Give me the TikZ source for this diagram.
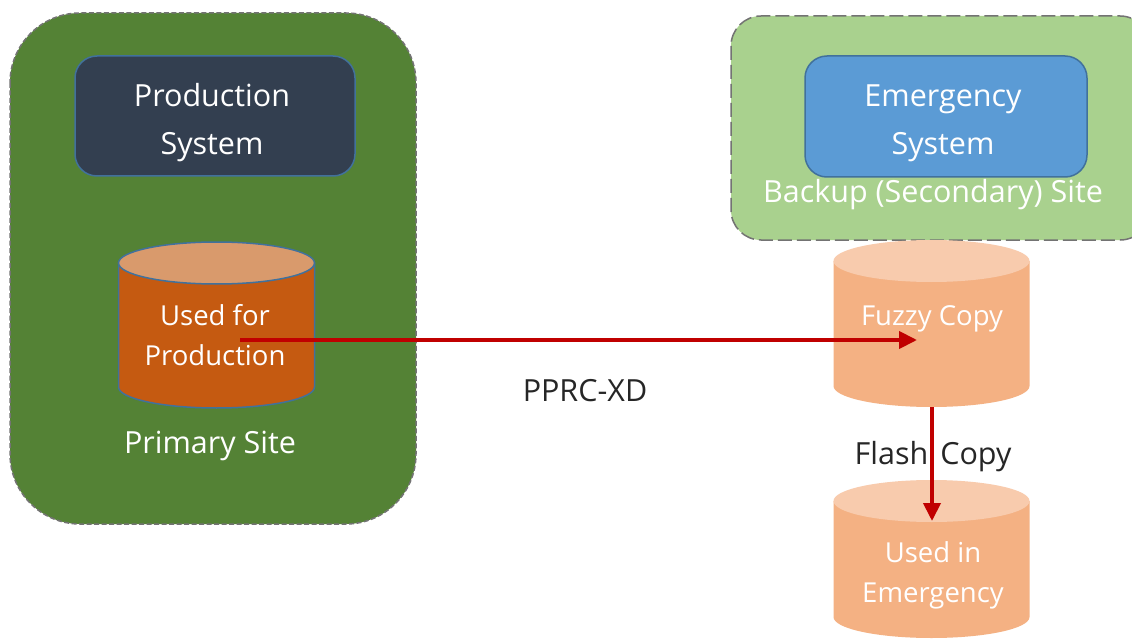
\documentclass[tikz,border=0pt]{standalone}
\usepackage{fontspec}
\setmainfont{Open Sans}
\usetikzlibrary{arrows.meta}
\definecolor{darkgreen}{HTML}{548235}
\definecolor{lightgreen}{HTML}{A9D18E}
\definecolor{navybox}{HTML}{333F50}
\definecolor{bluebox}{HTML}{5B9BD5}
\definecolor{boxedge}{HTML}{41719C}
\definecolor{burnt}{HTML}{C55A11}
\definecolor{burnttop}{HTML}{D99A6C}
\definecolor{peach}{HTML}{F4B183}
\definecolor{peachtop}{HTML}{F8CBAD}
\definecolor{arrowred}{HTML}{C00000}
\newcommand{\drumbody}[7]{% name, cx, top-centre y, bottom-centre y, body, end, edge style
  \path[fill=#5,#7] (#2-98,#3) -- (#2-98,#4) arc[start angle=180,end angle=0,x radius=98,y radius=21] -- (#2+98,#3) -- cycle;
  \path[fill=#6,#7] (#2,#3) ellipse[x radius=98,y radius=21];
  \coordinate (#1 bottom) at (#2,#4+21);
}
\tikzset{
  x=1pt,y=-1pt,
  sitebox/.style={draw=black!55,line width=1.5pt,rounded corners=#1},
  sysbox/.style={draw=boxedge,line width=1.5pt,rounded corners=22pt,inner sep=0pt},
  txt/.style={font=\fontsize{27.5}{40}\selectfont,text=white,align=center,inner sep=0pt},
  bigtxt/.style={txt,font=\fontsize{30.5}{48}\selectfont},
  blacktxt/.style={bigtxt,text=black!85},
  drumedge/.style={draw=boxedge,line width=1.5pt},
  link/.style={draw=arrowred,line width=4pt,-{Triangle[length=18pt,width=17pt]}},
}
\begin{document}
\begin{tikzpicture}
\useasboundingbox (0,0) rectangle (1132,639);
\fill[white] (0,0) rectangle (1132,639);
% sites
\path[sitebox=70pt,dash pattern=on 5pt off 2.5pt,fill=darkgreen] (10,13) rectangle (416,524);
\path[sitebox=30pt,dash pattern=on 14pt off 5pt,fill=lightgreen] (731,16) rectangle (1150,240);
% systems
\node[sysbox,fill=navybox,minimum width=280pt,minimum height=120pt] (prod) at (215,116) {};
\node[bigtxt] (prodt) at (212,123) {Production\\System};
\node[sysbox,fill=bluebox,minimum width=282pt,minimum height=121pt] (emer) at (946,116.5) {};
\node[bigtxt] (emert) at (943,123) {Emergency\\System};
\node[bigtxt] (backup) at (933,195) {Backup (Secondary) Site};
% drums
\drumbody{d1}{216.5}{263}{387}{burnt}{burnttop}{drumedge}
\drumbody{d2}{931.5}{261}{386}{peach}{peachtop}{}
\drumbody{d3}{931.5}{501}{617}{peach}{peachtop}{}
\node[txt] (d1t) at (215,335) {Used for\\Production};
\node[txt] (d2t) at (932,319) {Fuzzy Copy};
\node[txt] (d3t) at (933,575) {Used in\\Emergency};
\node[bigtxt] (primary) at (210,446) {Primary Site};
\node[blacktxt] (pprc) at (585,391) {PPRC-XD};
\node[blacktxt] (flash) at (933,457) {Flash\hspace{12pt}Copy};
% connectors
\coordinate (a) at (240,340);
\coordinate (b) at (917,340);
\draw[link] (a) -- (b);
\coordinate (c) at (932,521);
\draw[link] (d2 bottom -| c) -- (c);
\end{tikzpicture}
\end{document}
